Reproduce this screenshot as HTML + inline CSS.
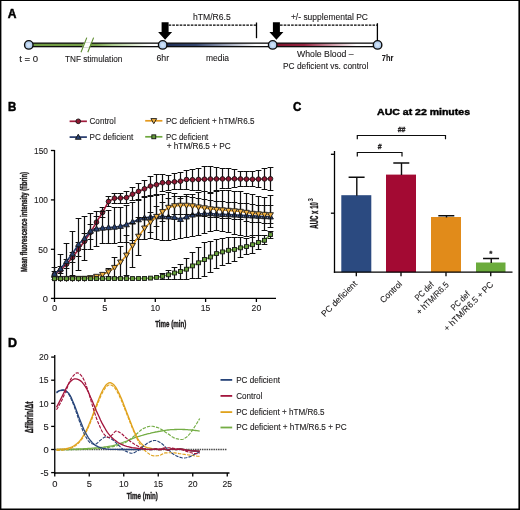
<!DOCTYPE html>
<html lang="en"><head><meta charset="utf-8"><title>Figure</title>
<style>
html,body{margin:0;padding:0;background:#fff;}
body{width:520px;height:510px;overflow:hidden;}
svg{display:block;font-family:'Liberation Sans', sans-serif;}
</style></head><body>
<svg width="520" height="510" viewBox="0 0 520 510">
<rect x="0" y="0" width="520" height="510" fill="#fff"/>
<path d="M0 0H520V510H0Z M1.4 0.9V508.4H518.4V0.9Z" fill="#000" fill-rule="evenodd"/>
<text x="7.7" y="18.1" font-size="12.8" fill="#000" font-weight="bold" textLength="8.70" lengthAdjust="spacingAndGlyphs" stroke="#000" stroke-width="0.5">A</text>
<defs>
<linearGradient id="gA1" x1="0" x2="1"><stop offset="0" stop-color="#6f9a40"/><stop offset="0.5" stop-color="#769f48"/><stop offset="0.62" stop-color="#a9c98a"/><stop offset="0.9" stop-color="#fff"/></linearGradient>
<linearGradient id="gA2" x1="0" x2="1"><stop offset="0" stop-color="#1b2a52"/><stop offset="0.3" stop-color="#33446d"/><stop offset="0.85" stop-color="#fff"/></linearGradient>
<linearGradient id="gA3" x1="0" x2="1"><stop offset="0" stop-color="#7a1028"/><stop offset="0.3" stop-color="#952440"/><stop offset="0.8" stop-color="#fff"/></linearGradient>
</defs>
<rect x="28.8" y="43.15" width="133.89999999999998" height="3.5" fill="url(#gA1)" stroke="#0d0d0d" stroke-width="1.3"/>
<rect x="162.7" y="43.15" width="110.0" height="3.5" fill="url(#gA2)" stroke="#0d0d0d" stroke-width="1.3"/>
<rect x="272.7" y="43.15" width="104.90000000000003" height="3.5" fill="url(#gA3)" stroke="#0d0d0d" stroke-width="1.3"/>
<path d="M83.6 41.9L86.4 41.9L91.6 47.9L83.6 47.9Z" fill="#fff" style="display:none"/>
<path d="M84.2 42.3H91.3L89.3 47.5H82.2Z" fill="#fff"/>
<line x1="81.0" y1="52.3" x2="86.8" y2="37.6" stroke="#5b8a2d" stroke-width="1.1" />
<line x1="87.8" y1="52.3" x2="93.6" y2="37.6" stroke="#5b8a2d" stroke-width="1.1" />
<circle cx="28.8" cy="44.9" r="4.25" fill="#b6d0ee" stroke="#0d0d0d" stroke-width="1.4"/>
<circle cx="28.8" cy="44.9" r="2" fill="#cfe1f6"/>
<circle cx="162.7" cy="44.9" r="4.25" fill="#b6d0ee" stroke="#0d0d0d" stroke-width="1.4"/>
<circle cx="162.7" cy="44.9" r="2" fill="#cfe1f6"/>
<circle cx="272.7" cy="44.9" r="4.25" fill="#b6d0ee" stroke="#0d0d0d" stroke-width="1.4"/>
<circle cx="272.7" cy="44.9" r="2" fill="#cfe1f6"/>
<circle cx="377.6" cy="44.9" r="4.25" fill="#b6d0ee" stroke="#0d0d0d" stroke-width="1.4"/>
<circle cx="377.6" cy="44.9" r="2" fill="#cfe1f6"/>
<text x="19.3" y="62.3" font-size="8.3" fill="#1c1a1b" textLength="18.90" lengthAdjust="spacingAndGlyphs" stroke="#1c1a1b" stroke-width="0.1" >t = 0</text>
<text x="65.0" y="62.3" font-size="8.3" fill="#1c1a1b" textLength="57.30" lengthAdjust="spacingAndGlyphs" stroke="#1c1a1b" stroke-width="0.1" >TNF stimulation</text>
<text x="156.4" y="60.8" font-size="8.3" fill="#1c1a1b" textLength="12.70" lengthAdjust="spacingAndGlyphs" stroke="#1c1a1b" stroke-width="0.1" >6hr</text>
<text x="206.0" y="60.8" font-size="8.3" fill="#1c1a1b" textLength="23.10" lengthAdjust="spacingAndGlyphs" stroke="#1c1a1b" stroke-width="0.1" >media</text>
<text x="193.0" y="19.8" font-size="8.3" fill="#1c1a1b" textLength="37.70" lengthAdjust="spacingAndGlyphs" stroke="#1c1a1b" stroke-width="0.1" >hTM/R6.5</text>
<text x="290.9" y="19.8" font-size="8.3" fill="#1c1a1b" textLength="77.10" lengthAdjust="spacingAndGlyphs" stroke="#1c1a1b" stroke-width="0.1" >+/- supplemental PC</text>
<text x="297.0" y="57.3" font-size="8.3" fill="#1c1a1b" textLength="56.60" lengthAdjust="spacingAndGlyphs" stroke="#1c1a1b" stroke-width="0.1" >Whole Blood –</text>
<text x="283.0" y="68.5" font-size="8.3" fill="#1c1a1b" textLength="85.30" lengthAdjust="spacingAndGlyphs" stroke="#1c1a1b" stroke-width="0.1" >PC deficient vs. control</text>
<text x="381.8" y="60.5" font-size="8.3" fill="#1c1a1b" font-weight="bold" textLength="11.50" lengthAdjust="spacingAndGlyphs" stroke="#1c1a1b" stroke-width="0.1">7hr</text>
<path d="M161.6 22.2H168.6V32H172.1L165.1 39.8L158.1 32H161.6Z" fill="#000"/>
<path d="M272.9 22.2H279.9V32H283.4L276.4 39.8L269.4 32H272.9Z" fill="#000"/>
<line x1="168.6" y1="25.2" x2="256.5" y2="25.2" stroke="#000" stroke-width="1.3" stroke-dasharray="2.6 1.1"/>
<line x1="256.5" y1="22.5" x2="256.5" y2="38.2" stroke="#000" stroke-width="1.3" />
<line x1="280" y1="25.2" x2="377.4" y2="25.2" stroke="#000" stroke-width="1.3" stroke-dasharray="2.6 1.1"/>
<line x1="377.4" y1="23.2" x2="377.4" y2="41" stroke="#000" stroke-width="1.3" />
<text x="8.0" y="110.7" font-size="12.8" fill="#000" font-weight="bold" textLength="8.30" lengthAdjust="spacingAndGlyphs" stroke="#000" stroke-width="0.5">B</text>
<line x1="69.6" y1="121.3" x2="86.9" y2="121.3" stroke="#a01c3c" stroke-width="1.7" />
<circle cx="78.25" cy="121.30" r="2.35" fill="#8f1832" stroke="#161616" stroke-width="0.9"/>
<text x="89.5" y="123.9" font-size="8.3" fill="#1c1a1b" textLength="26.20" lengthAdjust="spacingAndGlyphs" stroke="#1c1a1b" stroke-width="0.1" >Control</text>
<line x1="69.6" y1="137.1" x2="86.9" y2="137.1" stroke="#24396c" stroke-width="1.7" />
<path d="M78.25 134.20L81.15 139.30H75.35Z" fill="#263f70" stroke="#161616" stroke-width="0.9" stroke-linejoin="round"/>
<text x="89.5" y="139.6" font-size="8.3" fill="#1c1a1b" textLength="43.80" lengthAdjust="spacingAndGlyphs" stroke="#1c1a1b" stroke-width="0.1" >PC deficient</text>
<line x1="145.2" y1="120.8" x2="162.4" y2="120.8" stroke="#e59a1e" stroke-width="1.7" />
<path d="M153.80 123.70L156.70 118.60H150.90Z" fill="#f0b040" stroke="#161616" stroke-width="0.9" stroke-linejoin="round"/>
<text x="165.9" y="123.8" font-size="8.3" fill="#1c1a1b" textLength="88.60" lengthAdjust="spacingAndGlyphs" stroke="#1c1a1b" stroke-width="0.1" >PC deficient + hTM/R6.5</text>
<line x1="145.2" y1="136.8" x2="162.4" y2="136.8" stroke="#6fa83e" stroke-width="1.7" />
<rect x="151.85" y="134.85" width="3.9" height="3.9" fill="#669d3a" stroke="#161616" stroke-width="0.9"/>
<text x="165.9" y="139.6" font-size="8.3" fill="#1c1a1b" textLength="42.40" lengthAdjust="spacingAndGlyphs" stroke="#1c1a1b" stroke-width="0.1" >PC deficient</text>
<text x="166.7" y="149.4" font-size="8.3" fill="#1c1a1b" textLength="64.10" lengthAdjust="spacingAndGlyphs" stroke="#1c1a1b" stroke-width="0.1" >+ hTM/R6.5 + PC</text>
<line x1="54.5" y1="150" x2="54.5" y2="299.04999999999995" stroke="#000" stroke-width="1.3" />
<line x1="53.85" y1="298.4" x2="276" y2="298.4" stroke="#000" stroke-width="1.3" />
<line x1="50.9" y1="298.4" x2="54.5" y2="298.4" stroke="#000" stroke-width="1.3" />
<text x="42.7" y="301.59999999999997" font-size="8.3" fill="#1c1a1b" textLength="5.20" lengthAdjust="spacingAndGlyphs" stroke="#1c1a1b" stroke-width="0.1" >0</text>
<line x1="50.9" y1="249.3" x2="54.5" y2="249.3" stroke="#000" stroke-width="1.3" />
<text x="38.3" y="252.5" font-size="8.3" fill="#1c1a1b" textLength="9.60" lengthAdjust="spacingAndGlyphs" stroke="#1c1a1b" stroke-width="0.1" >50</text>
<line x1="50.9" y1="199.9" x2="54.5" y2="199.9" stroke="#000" stroke-width="1.3" />
<text x="34.0" y="203.1" font-size="8.3" fill="#1c1a1b" textLength="13.90" lengthAdjust="spacingAndGlyphs" stroke="#1c1a1b" stroke-width="0.1" >100</text>
<line x1="50.9" y1="150.5" x2="54.5" y2="150.5" stroke="#000" stroke-width="1.3" />
<text x="34.0" y="153.7" font-size="8.3" fill="#1c1a1b" textLength="13.90" lengthAdjust="spacingAndGlyphs" stroke="#1c1a1b" stroke-width="0.1" >150</text>
<line x1="54.5" y1="298.4" x2="54.5" y2="302.0" stroke="#000" stroke-width="1.3" />
<text x="51.9" y="310.5" font-size="8.3" fill="#1c1a1b" textLength="5.20" lengthAdjust="spacingAndGlyphs" stroke="#1c1a1b" stroke-width="0.1" >0</text>
<line x1="104.9" y1="298.4" x2="104.9" y2="302.0" stroke="#000" stroke-width="1.3" />
<text x="102.3" y="310.5" font-size="8.3" fill="#1c1a1b" textLength="5.20" lengthAdjust="spacingAndGlyphs" stroke="#1c1a1b" stroke-width="0.1" >5</text>
<line x1="155.3" y1="298.4" x2="155.3" y2="302.0" stroke="#000" stroke-width="1.3" />
<text x="150.5" y="310.5" font-size="8.3" fill="#1c1a1b" textLength="9.60" lengthAdjust="spacingAndGlyphs" stroke="#1c1a1b" stroke-width="0.1" >10</text>
<line x1="205.6" y1="298.4" x2="205.6" y2="302.0" stroke="#000" stroke-width="1.3" />
<text x="200.8" y="310.5" font-size="8.3" fill="#1c1a1b" textLength="9.60" lengthAdjust="spacingAndGlyphs" stroke="#1c1a1b" stroke-width="0.1" >15</text>
<line x1="256.4" y1="298.4" x2="256.4" y2="302.0" stroke="#000" stroke-width="1.3" />
<text x="251.6" y="310.5" font-size="8.3" fill="#1c1a1b" textLength="9.60" lengthAdjust="spacingAndGlyphs" stroke="#1c1a1b" stroke-width="0.1" >20</text>
<text x="155.2" y="327.2" font-size="9.5" fill="#1c1a1b" font-weight="bold" textLength="31.10" lengthAdjust="spacingAndGlyphs" stroke="#1c1a1b" stroke-width="0.4">Time (min)</text>
<text x="0" y="0" font-size="9.5" font-weight="bold" text-anchor="middle" fill="#1c1a1b" stroke="#1c1a1b" stroke-width="0.4" textLength="100" lengthAdjust="spacingAndGlyphs" transform="translate(27.1 222) rotate(-90)">Mean fluorescence intensity (fibrin)</text>
<path d="M54.5 271.5V277.5M51.60 271.5h5.8M51.60 277.5h5.8M60.5 266.5V273.5M57.60 266.5h5.8M57.60 273.5h5.8M66.5 259.5V268.5M63.60 259.5h5.8M63.60 268.5h5.8M72.5 252.5V262.5M69.60 252.5h5.8M69.60 262.5h5.8M78.5 242.5V256.5M75.60 242.5h5.8M75.60 256.5h5.8M84.5 233.5V249.5M81.60 233.5h5.8M81.60 249.5h5.8M90.5 224.5V239.5M87.60 224.5h5.8M87.60 239.5h5.8M96.5 216.5V228.5M93.60 216.5h5.8M93.60 228.5h5.8M102.5 207.5V217.5M99.60 207.5h5.8M99.60 217.5h5.8M108.5 196.5V206.5M105.60 196.5h5.8M105.60 206.5h5.8M114.5 193.5V203.5M111.60 193.5h5.8M111.60 203.5h5.8M120.5 193.5V203.5M117.60 193.5h5.8M117.60 203.5h5.8M126.5 191.5V203.5M123.60 191.5h5.8M123.60 203.5h5.8M132.5 187.5V200.5M129.60 187.5h5.8M129.60 200.5h5.8M138.5 183.5V199.5M135.60 183.5h5.8M135.60 199.5h5.8M144.5 180.5V196.5M141.60 180.5h5.8M141.60 196.5h5.8M150.5 176.5V195.5M147.60 176.5h5.8M147.60 195.5h5.8M156.5 174.5V194.5M153.60 174.5h5.8M153.60 194.5h5.8M162.5 174.5V191.5M159.60 174.5h5.8M159.60 191.5h5.8M168.5 175.5V190.5M165.60 175.5h5.8M165.60 190.5h5.8M174.5 173.5V189.5M171.60 173.5h5.8M171.60 189.5h5.8M180.5 172.5V189.5M177.60 172.5h5.8M177.60 189.5h5.8M186.5 170.5V189.5M183.60 170.5h5.8M183.60 189.5h5.8M192.5 169.5V190.5M189.60 169.5h5.8M189.60 190.5h5.8M198.5 168.5V190.5M195.60 168.5h5.8M195.60 190.5h5.8M204.5 166.5V191.5M201.60 166.5h5.8M201.60 191.5h5.8M210.5 166.5V192.5M207.60 166.5h5.8M207.60 192.5h5.8M216.5 167.5V190.5M213.60 167.5h5.8M213.60 190.5h5.8M222.5 168.5V188.5M219.60 168.5h5.8M219.60 188.5h5.8M228.5 168.5V188.5M225.60 168.5h5.8M225.60 188.5h5.8M234.5 169.5V187.5M231.60 169.5h5.8M231.60 187.5h5.8M240.5 171.5V186.5M237.60 171.5h5.8M237.60 186.5h5.8M246.5 171.5V186.5M243.60 171.5h5.8M243.60 186.5h5.8M252.5 171.5V186.5M249.60 171.5h5.8M249.60 186.5h5.8M258.5 170.5V187.5M255.60 170.5h5.8M255.60 187.5h5.8M264.5 168.5V189.5M261.60 168.5h5.8M261.60 189.5h5.8M270.5 167.5V190.5M267.60 167.5h5.8M267.60 190.5h5.8" stroke="#0f0f0f" stroke-width="1.2" fill="none"/>
<polyline points="54.5,274.4 60.5,270.2 66.5,264.2 72.5,257.6 78.5,249.2 84.5,241.3 90.5,232.3 96.5,222.2 102.5,212.4 108.5,201.5 114.5,198.2 120.5,198.0 126.5,197.6 132.5,194.2 138.5,191.4 144.5,188.8 150.5,186.1 156.5,184.7 162.5,182.7 168.5,182.6 174.5,181.8 180.5,181.2 186.5,179.5 192.5,179.7 198.5,179.4 204.5,179.2 210.5,179.0 216.5,178.9 222.5,178.9 228.5,178.9 234.5,178.8 240.5,179.0 246.5,179.1 252.5,179.3 258.5,179.1 264.5,179.0 270.5,178.8" fill="none" stroke="#a01c3c" stroke-width="1.6"/>
<circle cx="54.50" cy="274.40" r="2.35" fill="#8f1832" stroke="#161616" stroke-width="0.9"/>
<circle cx="60.50" cy="270.20" r="2.35" fill="#8f1832" stroke="#161616" stroke-width="0.9"/>
<circle cx="66.50" cy="264.20" r="2.35" fill="#8f1832" stroke="#161616" stroke-width="0.9"/>
<circle cx="72.50" cy="257.60" r="2.35" fill="#8f1832" stroke="#161616" stroke-width="0.9"/>
<circle cx="78.50" cy="249.20" r="2.35" fill="#8f1832" stroke="#161616" stroke-width="0.9"/>
<circle cx="84.50" cy="241.30" r="2.35" fill="#8f1832" stroke="#161616" stroke-width="0.9"/>
<circle cx="90.50" cy="232.30" r="2.35" fill="#8f1832" stroke="#161616" stroke-width="0.9"/>
<circle cx="96.50" cy="222.20" r="2.35" fill="#8f1832" stroke="#161616" stroke-width="0.9"/>
<circle cx="102.50" cy="212.40" r="2.35" fill="#8f1832" stroke="#161616" stroke-width="0.9"/>
<circle cx="108.50" cy="201.50" r="2.35" fill="#8f1832" stroke="#161616" stroke-width="0.9"/>
<circle cx="114.50" cy="198.20" r="2.35" fill="#8f1832" stroke="#161616" stroke-width="0.9"/>
<circle cx="120.50" cy="198.00" r="2.35" fill="#8f1832" stroke="#161616" stroke-width="0.9"/>
<circle cx="126.50" cy="197.60" r="2.35" fill="#8f1832" stroke="#161616" stroke-width="0.9"/>
<circle cx="132.50" cy="194.20" r="2.35" fill="#8f1832" stroke="#161616" stroke-width="0.9"/>
<circle cx="138.50" cy="191.40" r="2.35" fill="#8f1832" stroke="#161616" stroke-width="0.9"/>
<circle cx="144.50" cy="188.80" r="2.35" fill="#8f1832" stroke="#161616" stroke-width="0.9"/>
<circle cx="150.50" cy="186.10" r="2.35" fill="#8f1832" stroke="#161616" stroke-width="0.9"/>
<circle cx="156.50" cy="184.70" r="2.35" fill="#8f1832" stroke="#161616" stroke-width="0.9"/>
<circle cx="162.50" cy="182.70" r="2.35" fill="#8f1832" stroke="#161616" stroke-width="0.9"/>
<circle cx="168.50" cy="182.60" r="2.35" fill="#8f1832" stroke="#161616" stroke-width="0.9"/>
<circle cx="174.50" cy="181.80" r="2.35" fill="#8f1832" stroke="#161616" stroke-width="0.9"/>
<circle cx="180.50" cy="181.20" r="2.35" fill="#8f1832" stroke="#161616" stroke-width="0.9"/>
<circle cx="186.50" cy="179.50" r="2.35" fill="#8f1832" stroke="#161616" stroke-width="0.9"/>
<circle cx="192.50" cy="179.70" r="2.35" fill="#8f1832" stroke="#161616" stroke-width="0.9"/>
<circle cx="198.50" cy="179.40" r="2.35" fill="#8f1832" stroke="#161616" stroke-width="0.9"/>
<circle cx="204.50" cy="179.20" r="2.35" fill="#8f1832" stroke="#161616" stroke-width="0.9"/>
<circle cx="210.50" cy="179.00" r="2.35" fill="#8f1832" stroke="#161616" stroke-width="0.9"/>
<circle cx="216.50" cy="178.95" r="2.35" fill="#8f1832" stroke="#161616" stroke-width="0.9"/>
<circle cx="222.50" cy="178.90" r="2.35" fill="#8f1832" stroke="#161616" stroke-width="0.9"/>
<circle cx="228.50" cy="178.85" r="2.35" fill="#8f1832" stroke="#161616" stroke-width="0.9"/>
<circle cx="234.50" cy="178.80" r="2.35" fill="#8f1832" stroke="#161616" stroke-width="0.9"/>
<circle cx="240.50" cy="178.97" r="2.35" fill="#8f1832" stroke="#161616" stroke-width="0.9"/>
<circle cx="246.50" cy="179.13" r="2.35" fill="#8f1832" stroke="#161616" stroke-width="0.9"/>
<circle cx="252.50" cy="179.30" r="2.35" fill="#8f1832" stroke="#161616" stroke-width="0.9"/>
<circle cx="258.50" cy="179.13" r="2.35" fill="#8f1832" stroke="#161616" stroke-width="0.9"/>
<circle cx="264.50" cy="178.97" r="2.35" fill="#8f1832" stroke="#161616" stroke-width="0.9"/>
<circle cx="270.50" cy="178.80" r="2.35" fill="#8f1832" stroke="#161616" stroke-width="0.9"/>
<path d="M54.5 267.5V279.5M51.60 267.5h5.8M51.60 279.5h5.8M60.5 254.5V279.5M57.60 254.5h5.8M57.60 279.5h5.8M66.5 243.5V279.5M63.60 243.5h5.8M63.60 279.5h5.8M72.5 231.5V275.5M69.60 231.5h5.8M69.60 275.5h5.8M78.5 218.5V270.5M75.60 218.5h5.8M75.60 270.5h5.8M84.5 216.5V260.5M81.60 216.5h5.8M81.60 260.5h5.8M90.5 213.5V249.5M87.60 213.5h5.8M87.60 249.5h5.8M96.5 211.5V246.5M93.60 211.5h5.8M93.60 246.5h5.8M102.5 211.5V243.5M99.60 211.5h5.8M99.60 243.5h5.8M108.5 210.5V243.5M105.60 210.5h5.8M105.60 243.5h5.8M114.5 207.5V243.5M111.60 207.5h5.8M111.60 243.5h5.8M120.5 207.5V242.5M117.60 207.5h5.8M117.60 242.5h5.8M126.5 205.5V242.5M123.60 205.5h5.8M123.60 242.5h5.8M132.5 202.5V240.5M129.60 202.5h5.8M129.60 240.5h5.8M138.5 200.5V239.5M135.60 200.5h5.8M135.60 239.5h5.8M144.5 197.5V239.5M141.60 197.5h5.8M141.60 239.5h5.8M150.5 196.5V238.5M147.60 196.5h5.8M147.60 238.5h5.8M156.5 195.5V239.5M153.60 195.5h5.8M153.60 239.5h5.8M162.5 194.5V240.5M159.60 194.5h5.8M159.60 240.5h5.8M168.5 192.5V240.5M165.60 192.5h5.8M165.60 240.5h5.8M174.5 193.5V239.5M171.60 193.5h5.8M171.60 239.5h5.8M180.5 198.5V238.5M177.60 198.5h5.8M177.60 238.5h5.8M186.5 194.5V237.5M183.60 194.5h5.8M183.60 237.5h5.8M192.5 194.5V236.5M189.60 194.5h5.8M189.60 236.5h5.8M198.5 192.5V235.5M195.60 192.5h5.8M195.60 235.5h5.8M204.5 191.5V233.5M201.60 191.5h5.8M201.60 233.5h5.8M210.5 193.5V231.5M207.60 193.5h5.8M207.60 231.5h5.8M216.5 191.5V230.5M213.60 191.5h5.8M213.60 230.5h5.8M222.5 190.5V231.5M219.60 190.5h5.8M219.60 231.5h5.8M228.5 190.5V232.5M225.60 190.5h5.8M225.60 232.5h5.8M234.5 191.5V234.5M231.60 191.5h5.8M231.60 234.5h5.8M240.5 191.5V235.5M237.60 191.5h5.8M237.60 235.5h5.8M246.5 193.5V236.5M243.60 193.5h5.8M243.60 236.5h5.8M252.5 194.5V237.5M249.60 194.5h5.8M249.60 237.5h5.8M258.5 196.5V235.5M255.60 196.5h5.8M255.60 235.5h5.8M264.5 197.5V230.5M261.60 197.5h5.8M261.60 230.5h5.8M270.5 195.5V227.5M267.60 195.5h5.8M267.60 227.5h5.8" stroke="#0f0f0f" stroke-width="1.2" fill="none"/>
<polyline points="54.5,274.0 60.5,268.8 66.5,261.3 72.5,253.7 78.5,244.2 84.5,238.4 90.5,231.0 96.5,228.9 102.5,228.0 108.5,227.5 114.5,227.0 120.5,226.2 126.5,224.6 132.5,221.9 138.5,219.6 144.5,217.8 150.5,217.1 156.5,216.6 162.5,216.5 168.5,216.8 174.5,217.3 180.5,219.3 186.5,216.8 192.5,214.9 198.5,214.0 204.5,213.5 210.5,213.5 216.5,214.0 222.5,214.3 228.5,214.6 234.5,214.9 240.5,215.2 246.5,215.5 252.5,215.8 258.5,216.2 264.5,216.5 270.5,216.8" fill="none" stroke="#24396c" stroke-width="1.6"/>
<path d="M54.50 271.10L57.40 276.20H51.60Z" fill="#263f70" stroke="#161616" stroke-width="0.9" stroke-linejoin="round"/>
<path d="M60.50 265.90L63.40 271.00H57.60Z" fill="#263f70" stroke="#161616" stroke-width="0.9" stroke-linejoin="round"/>
<path d="M66.50 258.40L69.40 263.50H63.60Z" fill="#263f70" stroke="#161616" stroke-width="0.9" stroke-linejoin="round"/>
<path d="M72.50 250.80L75.40 255.90H69.60Z" fill="#263f70" stroke="#161616" stroke-width="0.9" stroke-linejoin="round"/>
<path d="M78.50 241.30L81.40 246.40H75.60Z" fill="#263f70" stroke="#161616" stroke-width="0.9" stroke-linejoin="round"/>
<path d="M84.50 235.50L87.40 240.60H81.60Z" fill="#263f70" stroke="#161616" stroke-width="0.9" stroke-linejoin="round"/>
<path d="M90.50 228.10L93.40 233.20H87.60Z" fill="#263f70" stroke="#161616" stroke-width="0.9" stroke-linejoin="round"/>
<path d="M96.50 226.00L99.40 231.10H93.60Z" fill="#263f70" stroke="#161616" stroke-width="0.9" stroke-linejoin="round"/>
<path d="M102.50 225.10L105.40 230.20H99.60Z" fill="#263f70" stroke="#161616" stroke-width="0.9" stroke-linejoin="round"/>
<path d="M108.50 224.60L111.40 229.70H105.60Z" fill="#263f70" stroke="#161616" stroke-width="0.9" stroke-linejoin="round"/>
<path d="M114.50 224.10L117.40 229.20H111.60Z" fill="#263f70" stroke="#161616" stroke-width="0.9" stroke-linejoin="round"/>
<path d="M120.50 223.30L123.40 228.40H117.60Z" fill="#263f70" stroke="#161616" stroke-width="0.9" stroke-linejoin="round"/>
<path d="M126.50 221.70L129.40 226.80H123.60Z" fill="#263f70" stroke="#161616" stroke-width="0.9" stroke-linejoin="round"/>
<path d="M132.50 219.00L135.40 224.10H129.60Z" fill="#263f70" stroke="#161616" stroke-width="0.9" stroke-linejoin="round"/>
<path d="M138.50 216.70L141.40 221.80H135.60Z" fill="#263f70" stroke="#161616" stroke-width="0.9" stroke-linejoin="round"/>
<path d="M144.50 214.90L147.40 220.00H141.60Z" fill="#263f70" stroke="#161616" stroke-width="0.9" stroke-linejoin="round"/>
<path d="M150.50 214.20L153.40 219.30H147.60Z" fill="#263f70" stroke="#161616" stroke-width="0.9" stroke-linejoin="round"/>
<path d="M156.50 213.70L159.40 218.80H153.60Z" fill="#263f70" stroke="#161616" stroke-width="0.9" stroke-linejoin="round"/>
<path d="M162.50 213.60L165.40 218.70H159.60Z" fill="#263f70" stroke="#161616" stroke-width="0.9" stroke-linejoin="round"/>
<path d="M168.50 213.90L171.40 219.00H165.60Z" fill="#263f70" stroke="#161616" stroke-width="0.9" stroke-linejoin="round"/>
<path d="M174.50 214.40L177.40 219.50H171.60Z" fill="#263f70" stroke="#161616" stroke-width="0.9" stroke-linejoin="round"/>
<path d="M180.50 216.40L183.40 221.50H177.60Z" fill="#263f70" stroke="#161616" stroke-width="0.9" stroke-linejoin="round"/>
<path d="M186.50 213.90L189.40 219.00H183.60Z" fill="#263f70" stroke="#161616" stroke-width="0.9" stroke-linejoin="round"/>
<path d="M192.50 212.00L195.40 217.10H189.60Z" fill="#263f70" stroke="#161616" stroke-width="0.9" stroke-linejoin="round"/>
<path d="M198.50 211.10L201.40 216.20H195.60Z" fill="#263f70" stroke="#161616" stroke-width="0.9" stroke-linejoin="round"/>
<path d="M204.50 210.60L207.40 215.70H201.60Z" fill="#263f70" stroke="#161616" stroke-width="0.9" stroke-linejoin="round"/>
<path d="M210.50 210.60L213.40 215.70H207.60Z" fill="#263f70" stroke="#161616" stroke-width="0.9" stroke-linejoin="round"/>
<path d="M216.50 211.10L219.40 216.20H213.60Z" fill="#263f70" stroke="#161616" stroke-width="0.9" stroke-linejoin="round"/>
<path d="M222.50 211.40L225.40 216.50H219.60Z" fill="#263f70" stroke="#161616" stroke-width="0.9" stroke-linejoin="round"/>
<path d="M228.50 211.70L231.40 216.80H225.60Z" fill="#263f70" stroke="#161616" stroke-width="0.9" stroke-linejoin="round"/>
<path d="M234.50 212.00L237.40 217.10H231.60Z" fill="#263f70" stroke="#161616" stroke-width="0.9" stroke-linejoin="round"/>
<path d="M240.50 212.30L243.40 217.40H237.60Z" fill="#263f70" stroke="#161616" stroke-width="0.9" stroke-linejoin="round"/>
<path d="M246.50 212.60L249.40 217.70H243.60Z" fill="#263f70" stroke="#161616" stroke-width="0.9" stroke-linejoin="round"/>
<path d="M252.50 212.92L255.40 218.02H249.60Z" fill="#263f70" stroke="#161616" stroke-width="0.9" stroke-linejoin="round"/>
<path d="M258.50 213.25L261.40 218.35H255.60Z" fill="#263f70" stroke="#161616" stroke-width="0.9" stroke-linejoin="round"/>
<path d="M264.50 213.58L267.40 218.68H261.60Z" fill="#263f70" stroke="#161616" stroke-width="0.9" stroke-linejoin="round"/>
<path d="M270.50 213.90L273.40 219.00H267.60Z" fill="#263f70" stroke="#161616" stroke-width="0.9" stroke-linejoin="round"/>
<path d="M108.5 268.5V276.5M105.60 268.5h5.8M105.60 276.5h5.8M114.5 257.5V277.5M111.60 257.5h5.8M111.60 277.5h5.8M120.5 246.5V277.5M117.60 246.5h5.8M117.60 277.5h5.8M126.5 235.5V275.5M123.60 235.5h5.8M123.60 275.5h5.8M132.5 223.5V267.5M129.60 223.5h5.8M129.60 267.5h5.8M138.5 217.5V255.5M135.60 217.5h5.8M135.60 255.5h5.8M144.5 217.5V239.5M141.60 217.5h5.8M141.60 239.5h5.8M150.5 212.5V232.5M147.60 212.5h5.8M147.60 232.5h5.8M156.5 206.5V226.5M153.60 206.5h5.8M153.60 226.5h5.8M162.5 202.5V221.5M159.60 202.5h5.8M159.60 221.5h5.8M168.5 198.5V216.5M165.60 198.5h5.8M165.60 216.5h5.8M174.5 196.5V214.5M171.60 196.5h5.8M171.60 214.5h5.8M180.5 196.5V214.5M177.60 196.5h5.8M177.60 214.5h5.8M186.5 196.5V214.5M183.60 196.5h5.8M183.60 214.5h5.8M192.5 197.5V214.5M189.60 197.5h5.8M189.60 214.5h5.8M198.5 198.5V215.5M195.60 198.5h5.8M195.60 215.5h5.8M204.5 199.5V216.5M201.60 199.5h5.8M201.60 216.5h5.8M210.5 200.5V217.5M207.60 200.5h5.8M207.60 217.5h5.8M216.5 201.5V217.5M213.60 201.5h5.8M213.60 217.5h5.8M222.5 201.5V218.5M219.60 201.5h5.8M219.60 218.5h5.8M228.5 202.5V218.5M225.60 202.5h5.8M225.60 218.5h5.8M234.5 202.5V219.5M231.60 202.5h5.8M231.60 219.5h5.8M240.5 203.5V219.5M237.60 203.5h5.8M237.60 219.5h5.8M246.5 203.5V221.5M243.60 203.5h5.8M243.60 221.5h5.8M252.5 204.5V222.5M249.60 204.5h5.8M249.60 222.5h5.8M258.5 205.5V222.5M255.60 205.5h5.8M255.60 222.5h5.8M264.5 205.5V223.5M261.60 205.5h5.8M261.60 223.5h5.8M270.5 205.5V223.5M267.60 205.5h5.8M267.60 223.5h5.8" stroke="#0f0f0f" stroke-width="1.2" fill="none"/>
<polyline points="54.5,278.7 60.5,278.7 66.5,278.6 72.5,278.6 78.5,278.5 84.5,278.5 90.5,277.8 96.5,276.5 102.5,274.6 108.5,272.0 114.5,267.6 120.5,262.2 126.5,255.2 132.5,245.6 138.5,236.4 144.5,228.2 150.5,222.2 156.5,216.6 162.5,211.8 168.5,207.5 174.5,205.9 180.5,205.4 186.5,205.4 192.5,206.0 198.5,207.1 204.5,208.0 210.5,209.0 216.5,209.5 222.5,210.0 228.5,210.5 234.5,211.0 240.5,211.5 246.5,212.5 252.5,213.5 258.5,214.0 264.5,214.5 270.5,214.9" fill="none" stroke="#e59a1e" stroke-width="1.6"/>
<path d="M54.50 281.60L57.40 276.50H51.60Z" fill="#f0b040" stroke="#161616" stroke-width="0.9" stroke-linejoin="round"/>
<path d="M60.50 281.56L63.40 276.46H57.60Z" fill="#f0b040" stroke="#161616" stroke-width="0.9" stroke-linejoin="round"/>
<path d="M66.50 281.52L69.40 276.42H63.60Z" fill="#f0b040" stroke="#161616" stroke-width="0.9" stroke-linejoin="round"/>
<path d="M72.50 281.48L75.40 276.38H69.60Z" fill="#f0b040" stroke="#161616" stroke-width="0.9" stroke-linejoin="round"/>
<path d="M78.50 281.44L81.40 276.34H75.60Z" fill="#f0b040" stroke="#161616" stroke-width="0.9" stroke-linejoin="round"/>
<path d="M84.50 281.40L87.40 276.30H81.60Z" fill="#f0b040" stroke="#161616" stroke-width="0.9" stroke-linejoin="round"/>
<path d="M90.50 280.70L93.40 275.60H87.60Z" fill="#f0b040" stroke="#161616" stroke-width="0.9" stroke-linejoin="round"/>
<path d="M96.50 279.40L99.40 274.30H93.60Z" fill="#f0b040" stroke="#161616" stroke-width="0.9" stroke-linejoin="round"/>
<path d="M102.50 277.50L105.40 272.40H99.60Z" fill="#f0b040" stroke="#161616" stroke-width="0.9" stroke-linejoin="round"/>
<path d="M108.50 274.90L111.40 269.80H105.60Z" fill="#f0b040" stroke="#161616" stroke-width="0.9" stroke-linejoin="round"/>
<path d="M114.50 270.50L117.40 265.40H111.60Z" fill="#f0b040" stroke="#161616" stroke-width="0.9" stroke-linejoin="round"/>
<path d="M120.50 265.10L123.40 260.00H117.60Z" fill="#f0b040" stroke="#161616" stroke-width="0.9" stroke-linejoin="round"/>
<path d="M126.50 258.10L129.40 253.00H123.60Z" fill="#f0b040" stroke="#161616" stroke-width="0.9" stroke-linejoin="round"/>
<path d="M132.50 248.50L135.40 243.40H129.60Z" fill="#f0b040" stroke="#161616" stroke-width="0.9" stroke-linejoin="round"/>
<path d="M138.50 239.30L141.40 234.20H135.60Z" fill="#f0b040" stroke="#161616" stroke-width="0.9" stroke-linejoin="round"/>
<path d="M144.50 231.10L147.40 226.00H141.60Z" fill="#f0b040" stroke="#161616" stroke-width="0.9" stroke-linejoin="round"/>
<path d="M150.50 225.10L153.40 220.00H147.60Z" fill="#f0b040" stroke="#161616" stroke-width="0.9" stroke-linejoin="round"/>
<path d="M156.50 219.50L159.40 214.40H153.60Z" fill="#f0b040" stroke="#161616" stroke-width="0.9" stroke-linejoin="round"/>
<path d="M162.50 214.70L165.40 209.60H159.60Z" fill="#f0b040" stroke="#161616" stroke-width="0.9" stroke-linejoin="round"/>
<path d="M168.50 210.40L171.40 205.30H165.60Z" fill="#f0b040" stroke="#161616" stroke-width="0.9" stroke-linejoin="round"/>
<path d="M174.50 208.80L177.40 203.70H171.60Z" fill="#f0b040" stroke="#161616" stroke-width="0.9" stroke-linejoin="round"/>
<path d="M180.50 208.30L183.40 203.20H177.60Z" fill="#f0b040" stroke="#161616" stroke-width="0.9" stroke-linejoin="round"/>
<path d="M186.50 208.30L189.40 203.20H183.60Z" fill="#f0b040" stroke="#161616" stroke-width="0.9" stroke-linejoin="round"/>
<path d="M192.50 208.90L195.40 203.80H189.60Z" fill="#f0b040" stroke="#161616" stroke-width="0.9" stroke-linejoin="round"/>
<path d="M198.50 210.00L201.40 204.90H195.60Z" fill="#f0b040" stroke="#161616" stroke-width="0.9" stroke-linejoin="round"/>
<path d="M204.50 210.90L207.40 205.80H201.60Z" fill="#f0b040" stroke="#161616" stroke-width="0.9" stroke-linejoin="round"/>
<path d="M210.50 211.90L213.40 206.80H207.60Z" fill="#f0b040" stroke="#161616" stroke-width="0.9" stroke-linejoin="round"/>
<path d="M216.50 212.40L219.40 207.30H213.60Z" fill="#f0b040" stroke="#161616" stroke-width="0.9" stroke-linejoin="round"/>
<path d="M222.50 212.90L225.40 207.80H219.60Z" fill="#f0b040" stroke="#161616" stroke-width="0.9" stroke-linejoin="round"/>
<path d="M228.50 213.40L231.40 208.30H225.60Z" fill="#f0b040" stroke="#161616" stroke-width="0.9" stroke-linejoin="round"/>
<path d="M234.50 213.90L237.40 208.80H231.60Z" fill="#f0b040" stroke="#161616" stroke-width="0.9" stroke-linejoin="round"/>
<path d="M240.50 214.40L243.40 209.30H237.60Z" fill="#f0b040" stroke="#161616" stroke-width="0.9" stroke-linejoin="round"/>
<path d="M246.50 215.40L249.40 210.30H243.60Z" fill="#f0b040" stroke="#161616" stroke-width="0.9" stroke-linejoin="round"/>
<path d="M252.50 216.40L255.40 211.30H249.60Z" fill="#f0b040" stroke="#161616" stroke-width="0.9" stroke-linejoin="round"/>
<path d="M258.50 216.90L261.40 211.80H255.60Z" fill="#f0b040" stroke="#161616" stroke-width="0.9" stroke-linejoin="round"/>
<path d="M264.50 217.40L267.40 212.30H261.60Z" fill="#f0b040" stroke="#161616" stroke-width="0.9" stroke-linejoin="round"/>
<path d="M270.50 217.80L273.40 212.70H267.60Z" fill="#f0b040" stroke="#161616" stroke-width="0.9" stroke-linejoin="round"/>
<path d="M162.5 273.5V279.5M159.60 273.5h5.8M159.60 279.5h5.8M168.5 270.5V279.5M165.60 270.5h5.8M165.60 279.5h5.8M174.5 267.5V279.5M171.60 267.5h5.8M171.60 279.5h5.8M180.5 264.5V279.5M177.60 264.5h5.8M177.60 279.5h5.8M186.5 258.5V279.5M183.60 258.5h5.8M183.60 279.5h5.8M192.5 252.5V278.5M189.60 252.5h5.8M189.60 278.5h5.8M198.5 247.5V278.5M195.60 247.5h5.8M195.60 278.5h5.8M204.5 242.5V276.5M201.60 242.5h5.8M201.60 276.5h5.8M210.5 241.5V272.5M207.60 241.5h5.8M207.60 272.5h5.8M216.5 239.5V268.5M213.60 239.5h5.8M213.60 268.5h5.8M222.5 238.5V265.5M219.60 238.5h5.8M219.60 265.5h5.8M228.5 237.5V263.5M225.60 237.5h5.8M225.60 263.5h5.8M234.5 237.5V261.5M231.60 237.5h5.8M231.60 261.5h5.8M240.5 237.5V257.5M237.60 237.5h5.8M237.60 257.5h5.8M246.5 238.5V254.5M243.60 238.5h5.8M243.60 254.5h5.8M252.5 235.5V253.5M249.60 235.5h5.8M249.60 253.5h5.8M258.5 235.5V249.5M255.60 235.5h5.8M255.60 249.5h5.8M264.5 235.5V244.5M261.60 235.5h5.8M261.60 244.5h5.8M270.5 231.5V238.5M267.60 231.5h5.8M267.60 238.5h5.8" stroke="#0f0f0f" stroke-width="1.2" fill="none"/>
<polyline points="54.5,278.7 60.5,278.7 66.5,278.7 72.5,278.7 78.5,278.6 84.5,278.6 90.5,278.6 96.5,278.6 102.5,278.6 108.5,278.6 114.5,278.6 120.5,278.6 126.5,278.5 132.5,278.5 138.5,278.5 144.5,278.5 150.5,278.1 156.5,277.4 162.5,276.3 168.5,274.8 174.5,273.0 180.5,271.5 186.5,269.2 192.5,265.9 198.5,262.8 204.5,259.5 210.5,257.0 216.5,253.6 222.5,251.9 228.5,250.3 234.5,249.4 240.5,247.8 246.5,246.6 252.5,244.7 258.5,242.5 264.5,240.3 270.5,234.6" fill="none" stroke="#6fa83e" stroke-width="1.6"/>
<rect x="52.55" y="276.75" width="3.9" height="3.9" fill="#669d3a" stroke="#161616" stroke-width="0.9"/>
<rect x="58.55" y="276.74" width="3.9" height="3.9" fill="#669d3a" stroke="#161616" stroke-width="0.9"/>
<rect x="64.55" y="276.72" width="3.9" height="3.9" fill="#669d3a" stroke="#161616" stroke-width="0.9"/>
<rect x="70.55" y="276.71" width="3.9" height="3.9" fill="#669d3a" stroke="#161616" stroke-width="0.9"/>
<rect x="76.55" y="276.70" width="3.9" height="3.9" fill="#669d3a" stroke="#161616" stroke-width="0.9"/>
<rect x="82.55" y="276.68" width="3.9" height="3.9" fill="#669d3a" stroke="#161616" stroke-width="0.9"/>
<rect x="88.55" y="276.67" width="3.9" height="3.9" fill="#669d3a" stroke="#161616" stroke-width="0.9"/>
<rect x="94.55" y="276.66" width="3.9" height="3.9" fill="#669d3a" stroke="#161616" stroke-width="0.9"/>
<rect x="100.55" y="276.64" width="3.9" height="3.9" fill="#669d3a" stroke="#161616" stroke-width="0.9"/>
<rect x="106.55" y="276.63" width="3.9" height="3.9" fill="#669d3a" stroke="#161616" stroke-width="0.9"/>
<rect x="112.55" y="276.62" width="3.9" height="3.9" fill="#669d3a" stroke="#161616" stroke-width="0.9"/>
<rect x="118.55" y="276.60" width="3.9" height="3.9" fill="#669d3a" stroke="#161616" stroke-width="0.9"/>
<rect x="124.55" y="276.59" width="3.9" height="3.9" fill="#669d3a" stroke="#161616" stroke-width="0.9"/>
<rect x="130.55" y="276.58" width="3.9" height="3.9" fill="#669d3a" stroke="#161616" stroke-width="0.9"/>
<rect x="136.55" y="276.56" width="3.9" height="3.9" fill="#669d3a" stroke="#161616" stroke-width="0.9"/>
<rect x="142.55" y="276.55" width="3.9" height="3.9" fill="#669d3a" stroke="#161616" stroke-width="0.9"/>
<rect x="148.55" y="276.15" width="3.9" height="3.9" fill="#669d3a" stroke="#161616" stroke-width="0.9"/>
<rect x="154.55" y="275.45" width="3.9" height="3.9" fill="#669d3a" stroke="#161616" stroke-width="0.9"/>
<rect x="160.55" y="274.35" width="3.9" height="3.9" fill="#669d3a" stroke="#161616" stroke-width="0.9"/>
<rect x="166.55" y="272.85" width="3.9" height="3.9" fill="#669d3a" stroke="#161616" stroke-width="0.9"/>
<rect x="172.55" y="271.05" width="3.9" height="3.9" fill="#669d3a" stroke="#161616" stroke-width="0.9"/>
<rect x="178.55" y="269.55" width="3.9" height="3.9" fill="#669d3a" stroke="#161616" stroke-width="0.9"/>
<rect x="184.55" y="267.25" width="3.9" height="3.9" fill="#669d3a" stroke="#161616" stroke-width="0.9"/>
<rect x="190.55" y="263.95" width="3.9" height="3.9" fill="#669d3a" stroke="#161616" stroke-width="0.9"/>
<rect x="196.55" y="260.85" width="3.9" height="3.9" fill="#669d3a" stroke="#161616" stroke-width="0.9"/>
<rect x="202.55" y="257.55" width="3.9" height="3.9" fill="#669d3a" stroke="#161616" stroke-width="0.9"/>
<rect x="208.55" y="255.05" width="3.9" height="3.9" fill="#669d3a" stroke="#161616" stroke-width="0.9"/>
<rect x="214.55" y="251.65" width="3.9" height="3.9" fill="#669d3a" stroke="#161616" stroke-width="0.9"/>
<rect x="220.55" y="249.95" width="3.9" height="3.9" fill="#669d3a" stroke="#161616" stroke-width="0.9"/>
<rect x="226.55" y="248.35" width="3.9" height="3.9" fill="#669d3a" stroke="#161616" stroke-width="0.9"/>
<rect x="232.55" y="247.45" width="3.9" height="3.9" fill="#669d3a" stroke="#161616" stroke-width="0.9"/>
<rect x="238.55" y="245.85" width="3.9" height="3.9" fill="#669d3a" stroke="#161616" stroke-width="0.9"/>
<rect x="244.55" y="244.65" width="3.9" height="3.9" fill="#669d3a" stroke="#161616" stroke-width="0.9"/>
<rect x="250.55" y="242.75" width="3.9" height="3.9" fill="#669d3a" stroke="#161616" stroke-width="0.9"/>
<rect x="256.55" y="240.55" width="3.9" height="3.9" fill="#669d3a" stroke="#161616" stroke-width="0.9"/>
<rect x="262.55" y="238.35" width="3.9" height="3.9" fill="#669d3a" stroke="#161616" stroke-width="0.9"/>
<rect x="268.55" y="232.65" width="3.9" height="3.9" fill="#669d3a" stroke="#161616" stroke-width="0.9"/>
<text x="293.0" y="110.8" font-size="12.8" fill="#000" font-weight="bold" textLength="8.30" lengthAdjust="spacingAndGlyphs" stroke="#000" stroke-width="0.5">C</text>
<text x="377.1" y="115.4" font-size="9.8" fill="#000" font-weight="bold" textLength="92.90" lengthAdjust="spacingAndGlyphs" stroke="#000" stroke-width="0.45">AUC at 22 minutes</text>
<line x1="334.5" y1="151" x2="334.5" y2="272.84999999999997" stroke="#000" stroke-width="1.3" />
<line x1="330.9" y1="154.3" x2="334.5" y2="154.3" stroke="#000" stroke-width="1.3" />
<line x1="330.9" y1="213.2" x2="334.5" y2="213.2" stroke="#000" stroke-width="1.3" />
<rect x="341.3" y="195.2" width="30.0" height="77.0" fill="#2b4a80"/>
<path d="M356.8 195.7V177.2M348.6 177.2h16" stroke="#0d0d0d" stroke-width="1.4" fill="none"/>
<line x1="356.3" y1="272.2" x2="356.3" y2="276.2" stroke="#000" stroke-width="1.3" />
<rect x="386" y="174.6" width="30" height="97.6" fill="#a30a33"/>
<path d="M401.5 175.1V163M393.3 163h16" stroke="#0d0d0d" stroke-width="1.4" fill="none"/>
<line x1="401.0" y1="272.2" x2="401.0" y2="276.2" stroke="#000" stroke-width="1.3" />
<rect x="431" y="217" width="30" height="55.19999999999999" fill="#e18b1a"/>
<path d="M446.5 217.5V215.7M438.3 215.7h16" stroke="#0d0d0d" stroke-width="1.4" fill="none"/>
<line x1="446.0" y1="272.2" x2="446.0" y2="276.2" stroke="#000" stroke-width="1.3" />
<rect x="476" y="262.5" width="29.5" height="9.699999999999989" fill="#6bab3c"/>
<path d="M491.25 263.0V258.5M483.05 258.5h16" stroke="#0d0d0d" stroke-width="1.4" fill="none"/>
<line x1="490.75" y1="272.2" x2="490.75" y2="276.2" stroke="#000" stroke-width="1.3" />
<line x1="333.85" y1="272.2" x2="512.5" y2="272.2" stroke="#000" stroke-width="1.3" />
<path d="M357.3 139.2V135.5H445.5V139.2" stroke="#0d0d0d" stroke-width="1.2" fill="none"/>
<path d="M357.3 156.4V152.5H402V156.4" stroke="#0d0d0d" stroke-width="1.2" fill="none"/>
<text x="401.6" y="131.8" font-size="7" fill="#1c1a1b" text-anchor="middle" font-weight="bold" stroke="#1c1a1b" stroke-width="0.3" >##</text>
<text x="379.6" y="148.8" font-size="7" fill="#1c1a1b" text-anchor="middle" font-weight="bold" stroke="#1c1a1b" stroke-width="0.3" >#</text>
<text x="490.7" y="255.6" font-size="8" fill="#1c1a1b" text-anchor="middle" font-weight="bold" stroke="#1c1a1b" stroke-width="0.3" >*</text>
<text x="0" y="0" font-size="10.3" font-weight="bold" text-anchor="middle" fill="#1c1a1b" stroke="#1c1a1b" stroke-width="0.4" textLength="26.5" lengthAdjust="spacingAndGlyphs" transform="translate(318.2 215.4) rotate(-90)">AUC x 10</text>
<text x="0" y="0" font-size="6.5" font-weight="bold" fill="#1c1a1b" textLength="3.4" lengthAdjust="spacingAndGlyphs" transform="translate(313.4 201.6) rotate(-90)">3</text>
<text x="0" y="0" font-size="8.8" text-anchor="middle" fill="#1c1a1b" stroke="#1c1a1b" stroke-width="0.1" textLength="46.5" lengthAdjust="spacingAndGlyphs" transform="translate(341.2 300.8) rotate(-45)">PC deficient</text>
<text x="0" y="0" font-size="8.8" text-anchor="middle" fill="#1c1a1b" stroke="#1c1a1b" stroke-width="0.1" textLength="26.9" lengthAdjust="spacingAndGlyphs" transform="translate(393.1 294.1) rotate(-45)">Control</text>
<text x="0" y="0" font-size="8.8" text-anchor="middle" fill="#1c1a1b" stroke="#1c1a1b" stroke-width="0.1" textLength="22.8" lengthAdjust="spacingAndGlyphs" transform="translate(426.3 293.3) rotate(-45)">PC def</text>
<text x="0" y="0" font-size="8.8" text-anchor="middle" fill="#1c1a1b" stroke="#1c1a1b" stroke-width="0.1" textLength="42" lengthAdjust="spacingAndGlyphs" transform="translate(434.6 300.3) rotate(-45)">+ hTM/R6.5</text>
<text x="0" y="0" font-size="8.8" text-anchor="middle" fill="#1c1a1b" stroke="#1c1a1b" stroke-width="0.1" textLength="22.8" lengthAdjust="spacingAndGlyphs" transform="translate(462.3 302.9) rotate(-45)">PC def</text>
<text x="0" y="0" font-size="8.8" text-anchor="middle" fill="#1c1a1b" stroke="#1c1a1b" stroke-width="0.1" textLength="66" lengthAdjust="spacingAndGlyphs" transform="translate(470.6 308.4) rotate(-45)">+ hTM/R6.5 + PC</text>
<text x="8.0" y="346.7" font-size="12.8" fill="#000" font-weight="bold" textLength="9.00" lengthAdjust="spacingAndGlyphs" stroke="#000" stroke-width="0.5">D</text>
<line x1="54.75" y1="355" x2="54.75" y2="473.65" stroke="#000" stroke-width="1.3" />
<line x1="54.1" y1="473" x2="229.5" y2="473" stroke="#000" stroke-width="1.3" />
<line x1="51.15" y1="357.1" x2="54.75" y2="357.1" stroke="#000" stroke-width="1.3" />
<text x="39.0" y="360.3" font-size="8.3" fill="#1c1a1b" textLength="9.60" lengthAdjust="spacingAndGlyphs" stroke="#1c1a1b" stroke-width="0.1" >20</text>
<line x1="51.15" y1="380.2" x2="54.75" y2="380.2" stroke="#000" stroke-width="1.3" />
<text x="39.0" y="383.4" font-size="8.3" fill="#1c1a1b" textLength="9.60" lengthAdjust="spacingAndGlyphs" stroke="#1c1a1b" stroke-width="0.1" >15</text>
<line x1="51.15" y1="403.3" x2="54.75" y2="403.3" stroke="#000" stroke-width="1.3" />
<text x="39.0" y="406.5" font-size="8.3" fill="#1c1a1b" textLength="9.60" lengthAdjust="spacingAndGlyphs" stroke="#1c1a1b" stroke-width="0.1" >10</text>
<line x1="51.15" y1="426.4" x2="54.75" y2="426.4" stroke="#000" stroke-width="1.3" />
<text x="43.4" y="429.59999999999997" font-size="8.3" fill="#1c1a1b" textLength="5.20" lengthAdjust="spacingAndGlyphs" stroke="#1c1a1b" stroke-width="0.1" >5</text>
<line x1="51.15" y1="449.5" x2="54.75" y2="449.5" stroke="#000" stroke-width="1.3" />
<text x="43.4" y="452.7" font-size="8.3" fill="#1c1a1b" textLength="5.20" lengthAdjust="spacingAndGlyphs" stroke="#1c1a1b" stroke-width="0.1" >0</text>
<line x1="51.15" y1="472.6" x2="54.75" y2="472.6" stroke="#000" stroke-width="1.3" />
<text x="40.4" y="475.8" font-size="8.3" fill="#1c1a1b" textLength="8.20" lengthAdjust="spacingAndGlyphs" stroke="#1c1a1b" stroke-width="0.1" >-5</text>
<line x1="54.75" y1="473" x2="54.75" y2="476.6" stroke="#000" stroke-width="1.3" />
<text x="52.15" y="486.8" font-size="8.3" fill="#1c1a1b" textLength="5.20" lengthAdjust="spacingAndGlyphs" stroke="#1c1a1b" stroke-width="0.1" >0</text>
<line x1="89.25" y1="473" x2="89.25" y2="476.6" stroke="#000" stroke-width="1.3" />
<text x="86.65" y="486.8" font-size="8.3" fill="#1c1a1b" textLength="5.20" lengthAdjust="spacingAndGlyphs" stroke="#1c1a1b" stroke-width="0.1" >5</text>
<line x1="123.75" y1="473" x2="123.75" y2="476.6" stroke="#000" stroke-width="1.3" />
<text x="118.95" y="486.8" font-size="8.3" fill="#1c1a1b" textLength="9.60" lengthAdjust="spacingAndGlyphs" stroke="#1c1a1b" stroke-width="0.1" >10</text>
<line x1="158.25" y1="473" x2="158.25" y2="476.6" stroke="#000" stroke-width="1.3" />
<text x="153.45" y="486.8" font-size="8.3" fill="#1c1a1b" textLength="9.60" lengthAdjust="spacingAndGlyphs" stroke="#1c1a1b" stroke-width="0.1" >15</text>
<line x1="192.75" y1="473" x2="192.75" y2="476.6" stroke="#000" stroke-width="1.3" />
<text x="187.95" y="486.8" font-size="8.3" fill="#1c1a1b" textLength="9.60" lengthAdjust="spacingAndGlyphs" stroke="#1c1a1b" stroke-width="0.1" >20</text>
<line x1="227.25" y1="473" x2="227.25" y2="476.6" stroke="#000" stroke-width="1.3" />
<text x="222.45" y="486.8" font-size="8.3" fill="#1c1a1b" textLength="9.60" lengthAdjust="spacingAndGlyphs" stroke="#1c1a1b" stroke-width="0.1" >25</text>
<line x1="54.75" y1="449.5" x2="226.5" y2="449.5" stroke="#4a4a4a" stroke-width="1.4" stroke-dasharray="1.5 0.8"/>
<text x="126.7" y="499.3" font-size="9.5" fill="#1c1a1b" font-weight="bold" textLength="31.10" lengthAdjust="spacingAndGlyphs" stroke="#1c1a1b" stroke-width="0.4">Time (min)</text>
<text x="0" y="0" font-size="11" font-weight="bold" text-anchor="middle" fill="#1c1a1b" stroke="#1c1a1b" stroke-width="0.4" textLength="31.8" lengthAdjust="spacingAndGlyphs" transform="translate(32.6 417.3) rotate(-90)">Δfibrin/Δt</text>
<polyline points="56.5,449.5 57.9,449.5 59.2,449.5 60.6,449.5 62.0,449.4 63.4,449.4 64.7,449.4 66.1,449.4 67.5,449.3 68.9,449.3 70.2,449.2 71.6,449.2 73.0,449.2 74.4,449.1 75.7,449.1 77.1,449.0 78.5,449.0 79.9,448.9 81.3,448.9 82.6,448.8 84.0,448.7 85.4,448.7 86.8,448.6 88.1,448.5 89.5,448.4 90.9,448.3 92.3,448.2 93.6,448.1 95.0,448.0 96.4,447.9 97.8,447.8 99.2,447.6 100.5,447.5 101.9,447.3 103.3,447.2 104.7,447.0 106.0,446.8 107.4,446.6 108.8,446.4 110.2,446.2 111.5,446.0 112.9,445.7 114.3,445.3 115.7,444.9 117.0,444.5 118.4,444.0 119.8,443.5 121.2,443.0 122.6,442.5 123.9,442.0 125.3,441.5 126.7,441.0 128.1,440.4 129.4,439.9 130.8,439.3 132.2,438.7 133.6,438.2 134.9,437.7 136.3,437.2 137.7,436.7 139.1,436.3 140.5,435.9 141.8,435.5 143.2,435.1 144.6,434.7 146.0,434.3 147.3,433.9 148.7,433.6 150.1,433.3 151.5,432.9 152.8,432.6 154.2,432.3 155.6,432.0 157.0,431.8 158.3,431.5 159.7,431.3 161.1,431.0 162.5,430.8 163.9,430.6 165.2,430.4 166.6,430.2 168.0,430.0 169.4,429.8 170.7,429.7 172.1,429.6 173.5,429.6 174.9,429.5 176.2,429.5 177.6,429.4 179.0,429.4 180.4,429.4 181.8,429.4 183.1,429.5 184.5,429.5 185.9,429.6 187.3,429.7 188.6,429.8 190.0,429.9 191.4,430.0 192.8,430.2 194.1,430.4 195.5,430.5 196.9,430.7 198.3,430.9 199.7,431.2" fill="none" stroke="#74ad45" stroke-width="1.3" stroke-linejoin="round"/>
<polyline points="56.5,450.0 57.9,450.0 59.2,449.9 60.6,449.9 62.0,449.9 63.4,449.9 64.7,449.9 66.1,449.9 67.5,449.8 68.9,449.8 70.2,449.8 71.6,449.8 73.0,449.7 74.4,449.7 75.7,449.7 77.1,449.6 78.5,449.6 79.9,449.6 81.3,449.5 82.6,449.5 84.0,449.4 85.4,449.4 86.8,449.3 88.1,449.3 89.5,449.2 90.9,449.1 92.3,449.0 93.6,448.9 95.0,448.8 96.4,448.7 97.8,448.6 99.2,448.5 100.5,448.4 101.9,448.2 103.3,448.1 104.7,447.9 106.0,447.8 107.4,447.6 108.8,447.4 110.2,447.2 111.5,446.9 112.9,446.6 114.3,446.4 115.7,446.1 117.0,445.8 118.4,445.4 119.8,445.0 121.2,444.5 122.6,443.9 123.9,443.3 125.3,442.6 126.7,441.7 128.1,440.7 129.4,439.8 130.8,438.8 132.2,437.7 133.6,436.5 134.9,435.4 136.3,434.2 137.7,433.0 139.1,431.7 140.5,430.5 141.8,429.4 143.2,428.6 144.6,428.0 146.0,427.4 147.3,426.9 148.7,426.5 150.1,426.2 151.5,426.2 152.8,426.3 154.2,426.6 155.6,427.0 157.0,427.4 158.3,427.8 159.7,428.4 161.1,429.2 162.5,430.1 163.9,431.0 165.2,432.0 166.6,432.9 168.0,433.8 169.4,434.8 170.7,435.8 172.1,436.8 173.5,437.6 174.9,438.2 176.2,438.6 177.6,438.9 179.0,439.2 180.4,439.4 181.8,439.5 183.1,439.2 184.5,438.5 185.9,437.6 187.3,436.5 188.6,435.2 190.0,433.5 191.4,431.6 192.8,429.6 194.1,427.6 195.5,425.5 196.9,423.3 198.3,421.0 199.7,418.5" fill="none" stroke="#74ad45" stroke-width="1.15" stroke-linejoin="round" stroke-dasharray="3.4 1.2"/>
<polyline points="56.5,449.4 57.9,449.3 59.2,449.3 60.6,449.2 62.0,449.1 63.4,449.0 64.7,448.8 66.1,448.6 67.5,448.3 68.9,448.0 70.2,447.5 71.6,447.0 73.0,446.3 74.4,445.5 75.7,444.6 77.1,443.5 78.5,442.1 79.9,440.6 81.3,438.9 82.6,436.9 84.0,434.6 85.4,432.1 86.8,429.4 88.1,426.4 89.5,423.2 90.9,419.8 92.3,416.3 93.6,412.6 95.0,408.9 96.4,405.2 97.8,401.5 99.2,398.0 100.5,394.7 101.9,391.7 103.3,389.0 104.7,386.8 106.0,385.0 107.4,383.7 108.8,382.9 110.2,382.7 111.5,383.1 112.9,384.0 114.3,385.3 115.7,387.1 117.0,389.4 118.4,392.0 119.8,394.9 121.2,398.1 122.6,401.5 123.9,405.0 125.3,408.6 126.7,412.2 128.1,415.7 129.4,419.2 130.8,422.8 132.2,426.4 133.6,429.8 134.9,432.9 136.3,435.8 137.7,438.5 139.1,440.8 140.5,442.6 141.8,444.1 143.2,445.4 144.6,446.5 146.0,447.2 147.3,447.6 148.7,447.9 150.1,448.2 151.5,448.5 152.8,449.3 154.2,449.1 155.6,448.9 157.0,449.2 158.3,449.6 159.7,449.7 161.1,449.5 162.5,449.2 163.9,449.0 165.2,449.3 166.6,449.7 168.0,450.0 169.4,449.6 170.7,449.1 172.1,448.8 173.5,449.0 174.9,449.3 176.2,449.5 177.6,449.4 179.0,449.2 180.4,449.0 181.8,449.1 183.1,449.4 184.5,449.7 185.9,450.0 187.3,450.2 188.6,450.4 190.0,450.6 191.4,450.8 192.8,450.9 194.1,451.0 195.5,451.0 196.9,451.1 198.3,451.1 199.7,451.1" fill="none" stroke="#e0a21c" stroke-width="1.3" stroke-linejoin="round"/>
<polyline points="56.5,450.5 57.9,450.4 59.2,450.3 60.6,450.2 62.0,450.1 63.4,449.9 64.7,449.8 66.1,449.5 67.5,449.2 68.9,448.9 70.2,448.4 71.6,447.9 73.0,447.3 74.4,446.5 75.7,445.6 77.1,444.5 78.5,443.2 79.9,441.7 81.3,440.0 82.6,438.1 84.0,435.9 85.4,433.5 86.8,430.8 88.1,427.9 89.5,424.8 90.9,421.4 92.3,418.0 93.6,414.4 95.0,410.7 96.4,407.0 97.8,403.4 99.2,400.0 100.5,396.7 101.9,393.7 103.3,391.1 104.7,388.8 106.0,387.0 107.4,385.8 108.8,385.0 110.2,384.8 111.5,385.2 112.9,386.0 114.3,387.4 115.7,389.2 117.0,391.4 118.4,394.0 119.8,396.9 121.2,400.1 122.6,403.4 123.9,406.9 125.3,410.4 126.7,413.9 128.1,417.4 129.4,420.8 130.8,424.3 132.2,427.8 133.6,431.0 134.9,434.1 136.3,437.1 137.7,440.1 139.1,442.7 140.5,445.0 141.8,447.0 143.2,448.8 144.6,450.3 146.0,451.5 147.3,452.6 148.7,453.6 150.1,454.6 151.5,455.3 152.8,455.8 154.2,455.9 155.6,455.9 157.0,455.8 158.3,455.6 159.7,455.3 161.1,454.8 162.5,454.0 163.9,453.2 165.2,452.9 166.6,452.8 168.0,452.8 169.4,452.7 170.7,452.7 172.1,452.7 173.5,452.8 174.9,452.9 176.2,453.1 177.6,453.3 179.0,453.6 180.4,453.8 181.8,454.0 183.1,454.2 184.5,454.4 185.9,454.6 187.3,454.8 188.6,455.0 190.0,455.1 191.4,455.3 192.8,455.5 194.1,455.7 195.5,455.9 196.9,456.1 198.3,456.2 199.7,456.4" fill="none" stroke="#e0a21c" stroke-width="1.15" stroke-linejoin="round" stroke-dasharray="3.4 1.2"/>
<polyline points="56.5,392.2 57.9,391.3 59.2,390.7 60.6,390.3 62.0,390.0 63.4,389.9 64.7,390.2 66.1,391.0 67.5,392.1 68.9,393.5 70.2,395.6 71.6,398.4 73.0,401.7 74.4,404.9 75.7,408.5 77.1,412.3 78.5,416.2 79.9,419.7 81.3,423.2 82.6,426.6 84.0,429.7 85.4,432.5 86.8,435.0 88.1,437.3 89.5,439.3 90.9,441.0 92.3,442.6 93.6,443.9 95.0,445.1 96.4,445.9 97.8,446.6 99.2,447.2 100.5,447.7 101.9,448.1 103.3,448.4 104.7,448.6 106.0,448.9 107.4,449.1 108.8,449.2 110.2,449.3 111.5,449.3 112.9,449.4 114.3,449.4 115.7,449.4 117.0,449.4 118.4,449.5 119.8,449.5 121.2,449.5 122.6,449.5 123.9,449.5 125.3,449.5 126.7,449.5 128.1,449.5 129.4,449.5 130.8,449.5 132.2,449.5 133.6,449.6 134.9,449.6 136.3,449.6 137.7,449.6 139.1,449.6 140.5,449.6 141.8,448.8 143.2,448.9 144.6,449.0 146.0,449.2 147.3,449.3 148.7,449.4 150.1,449.5 151.5,449.5 152.8,449.3 154.2,449.1 155.6,448.9 157.0,449.2 158.3,449.6 159.7,449.7 161.1,449.5 162.5,449.2 163.9,449.0 165.2,449.3 166.6,449.7 168.0,450.0 169.4,449.6 170.7,449.1 172.1,448.8 173.5,449.0 174.9,449.3 176.2,449.5 177.6,449.4 179.0,449.2 180.4,449.0 181.8,449.1 183.1,449.4 184.5,449.7 185.9,450.0 187.3,450.2 188.6,450.4 190.0,450.6 191.4,450.8 192.8,450.9 194.1,451.0 195.5,451.0 196.9,451.1 198.3,451.1 199.7,451.1" fill="none" stroke="#274479" stroke-width="1.3" stroke-linejoin="round"/>
<polyline points="56.5,393.0 57.9,391.8 59.2,391.2 60.6,390.8 62.0,390.5 63.4,390.4 64.7,390.6 66.1,391.5 67.5,392.9 68.9,394.4 70.2,396.8 71.6,399.9 73.0,403.4 74.4,406.8 75.7,410.6 77.1,414.7 78.5,418.7 79.9,422.6 81.3,426.4 82.6,430.1 84.0,433.4 85.4,436.1 86.8,438.5 88.1,440.6 89.5,442.2 90.9,443.2 92.3,443.8 93.6,444.3 95.0,444.4 96.4,443.8 97.8,442.6 99.2,441.2 100.5,440.1 101.9,439.0 103.3,437.9 104.7,437.1 106.0,436.8 107.4,437.0 108.8,437.6 110.2,438.3 111.5,439.0 112.9,439.9 114.3,441.1 115.7,442.4 117.0,443.8 118.4,445.1 119.8,446.4 121.2,447.7 122.6,449.0 123.9,450.2 125.3,451.0 126.7,451.6 128.1,452.3 129.4,452.8 130.8,453.1 132.2,453.2 133.6,452.9 134.9,452.3 136.3,451.6 137.7,450.8 139.1,449.9 140.5,448.7 141.8,447.5 143.2,446.3 144.6,445.3 146.0,444.3 147.3,443.3 148.7,442.4 150.1,441.7 151.5,441.1 152.8,440.7 154.2,440.5 155.6,440.5 157.0,440.9 158.3,441.5 159.7,442.2 161.1,443.0 162.5,444.2 163.9,445.5 165.2,446.9 166.6,448.2 168.0,449.4 169.4,450.7 170.7,452.0 172.1,453.2 173.5,454.2 174.9,455.0 176.2,455.7 177.6,456.4 179.0,456.9 180.4,457.4 181.8,457.8 183.1,458.0 184.5,458.0 185.9,457.8 187.3,457.5 188.6,457.1 190.0,456.6 191.4,456.0 192.8,455.2 194.1,454.5 195.5,453.8 196.9,453.1 198.3,452.5 199.7,451.8" fill="none" stroke="#274479" stroke-width="1.15" stroke-linejoin="round" stroke-dasharray="3.4 1.2"/>
<polyline points="56.5,407.2 57.9,404.6 59.2,402.1 60.6,399.4 62.0,396.6 63.4,393.8 64.7,391.1 66.1,388.4 67.5,385.7 68.9,383.3 70.2,381.8 71.6,380.5 73.0,379.5 74.4,378.9 75.7,378.9 77.1,379.2 78.5,379.7 79.9,380.4 81.3,381.4 82.6,382.8 84.0,384.6 85.4,386.7 86.8,389.0 88.1,391.6 89.5,394.7 90.9,397.9 92.3,401.1 93.6,404.3 95.0,407.6 96.4,410.9 97.8,414.0 99.2,417.1 100.5,420.0 101.9,422.9 103.3,425.4 104.7,427.8 106.0,430.2 107.4,432.3 108.8,434.2 110.2,435.9 111.5,437.3 112.9,438.6 114.3,439.8 115.7,440.8 117.0,441.8 118.4,442.7 119.8,443.5 121.2,444.2 122.6,444.9 123.9,445.4 125.3,445.9 126.7,446.3 128.1,446.6 129.4,447.0 130.8,447.3 132.2,447.6 133.6,447.8 134.9,448.0 136.3,448.2 137.7,448.4 139.1,448.5 140.5,448.7 141.8,448.8 143.2,448.9 144.6,449.0 146.0,449.2 147.3,449.3 148.7,449.4 150.1,449.5 151.5,449.5 152.8,449.3 154.2,449.1 155.6,448.9 157.0,449.2 158.3,449.6 159.7,449.7 161.1,449.5 162.5,449.2 163.9,449.0 165.2,449.3 166.6,449.7 168.0,450.0 169.4,449.6 170.7,449.1 172.1,448.8 173.5,449.0 174.9,449.3 176.2,449.5 177.6,449.4 179.0,449.2 180.4,449.0 181.8,449.1 183.1,449.4 184.5,449.7 185.9,450.0 187.3,450.2 188.6,450.4 190.0,450.6 191.4,450.8 192.8,450.9 194.1,451.0 195.5,451.0 196.9,451.1 198.3,451.1 199.7,451.1" fill="none" stroke="#a3153d" stroke-width="1.3" stroke-linejoin="round"/>
<polyline points="56.5,409.7 57.9,407.5 59.2,405.2 60.6,402.7 62.0,399.9 63.4,396.8 64.7,393.7 66.1,390.5 67.5,387.0 68.9,383.3 70.2,380.1 71.6,377.9 73.0,376.2 74.4,374.6 75.7,373.4 77.1,372.8 78.5,373.1 79.9,374.1 81.3,375.6 82.6,377.3 84.0,379.9 85.4,383.3 86.8,387.2 88.1,391.1 89.5,395.5 90.9,400.4 92.3,405.2 93.6,409.6 95.0,413.9 96.4,418.0 97.8,421.8 99.2,425.1 100.5,428.1 101.9,431.0 103.3,433.3 104.7,434.9 106.0,436.2 107.4,437.2 108.8,437.5 110.2,436.7 111.5,435.4 112.9,434.1 114.3,432.4 115.7,431.1 117.0,431.1 118.4,431.7 119.8,432.6 121.2,433.4 122.6,434.5 123.9,435.8 125.3,437.2 126.7,438.4 128.1,439.6 129.4,440.7 130.8,441.7 132.2,442.7 133.6,443.6 134.9,444.5 136.3,445.3 137.7,446.1 139.1,446.8 140.5,447.4 141.8,448.0 143.2,448.5 144.6,448.9 146.0,449.3 147.3,449.5 148.7,449.5 150.1,449.5 151.5,449.4 152.8,449.4 154.2,449.3 155.6,449.2 157.0,449.1 158.3,449.0 159.7,448.8 161.1,448.6 162.5,448.2 163.9,448.0 165.2,447.7 166.6,447.7 168.0,447.7 169.4,447.8 170.7,447.9 172.1,448.1 173.5,448.3 174.9,448.5 176.2,448.7 177.6,448.9 179.0,449.2 180.4,449.5 181.8,449.8 183.1,450.2 184.5,450.6 185.9,451.1 187.3,451.6 188.6,452.1 190.0,452.5 191.4,452.8 192.8,453.2 194.1,453.5 195.5,453.6 196.9,453.6 198.3,453.3 199.7,452.7" fill="none" stroke="#a3153d" stroke-width="1.15" stroke-linejoin="round" stroke-dasharray="3.4 1.2"/>
<line x1="220.5" y1="379.9" x2="232.2" y2="379.9" stroke="#274479" stroke-width="1.8" />
<text x="236.2" y="382.7" font-size="8.3" fill="#1c1a1b" textLength="43.70" lengthAdjust="spacingAndGlyphs" stroke="#1c1a1b" stroke-width="0.1" >PC deficient</text>
<line x1="220.5" y1="395.9" x2="232.2" y2="395.9" stroke="#a3153d" stroke-width="1.8" />
<text x="236.2" y="398.7" font-size="8.3" fill="#1c1a1b" textLength="26.10" lengthAdjust="spacingAndGlyphs" stroke="#1c1a1b" stroke-width="0.1" >Control</text>
<line x1="220.5" y1="412.1" x2="232.2" y2="412.1" stroke="#e0a21c" stroke-width="1.8" />
<text x="236.2" y="414.90000000000003" font-size="8.3" fill="#1c1a1b" textLength="88.30" lengthAdjust="spacingAndGlyphs" stroke="#1c1a1b" stroke-width="0.1" >PC deficient + hTM/R6.5</text>
<line x1="220.5" y1="427.5" x2="232.2" y2="427.5" stroke="#74ad45" stroke-width="1.8" />
<text x="236.2" y="430.3" font-size="8.3" fill="#1c1a1b" textLength="110.50" lengthAdjust="spacingAndGlyphs" stroke="#1c1a1b" stroke-width="0.1" >PC deficient + hTM/R6.5 + PC</text>
</svg>
</body></html>
